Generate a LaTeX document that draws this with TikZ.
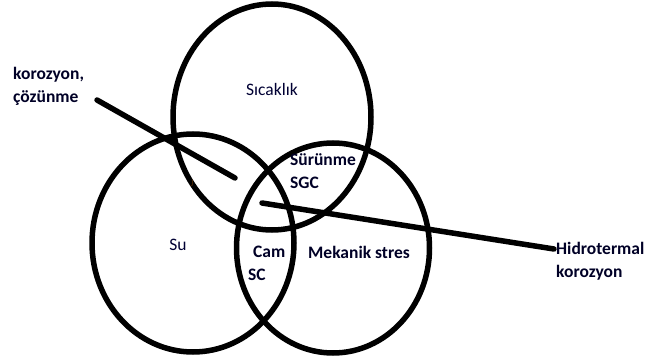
\documentclass[tikz,border=0pt]{standalone}
\usepackage{fontspec}
\setmainfont{Carlito}
\usepackage{tikz}
\usetikzlibrary{shapes.geometric,positioning}

\begin{document}
\begin{tikzpicture}[
  x=1pt, y=-1pt,
  set/.style={draw, ellipse, line width=5.5pt, inner sep=0pt},
  lbl/.style={font=\fontsize{17.5}{23}\selectfont, align=left, inner sep=0pt},
  boldlbl/.style={lbl, font=\fontsize{17.5}{23}\selectfont\bfseries, text=black!85!blue},
  lead/.style={line width=5.5pt, line cap=round}
]
  \useasboundingbox (0,0) rectangle (648,358);

  % the three sets
  \node[set, minimum width=198pt, minimum height=226pt] (sicaklik) at (272,117) {};
  \node[set, minimum width=202pt, minimum height=218pt] (su) at (193,243) {};
  \node[set, minimum width=193pt, minimum height=210pt] (mekanik) at (333,248) {};

  % set names
  \node[lbl, text=black!80!blue] (tsicak) at (272,89) {Sıcaklık};
  \node[lbl, text=black!80!blue] (tsu) at (178,245) {Su};
  \node[boldlbl, anchor=west] (tmek) at (308,252) {Mekanik stres};
  \node[boldlbl, anchor=west] (tsur) at (290,171.5) {Sürünme\\SGC};
  \node[boldlbl, anchor=west] (tcam) at (253,252) {Cam};
  \node[boldlbl, anchor=west] (tsc) at (248,275) {SC};
  \node[lbl, font=\fontsize{10}{11}\selectfont, text=black!70!orange] (tj) at (192,183) {J};

  % outside labels with their leaders
  \node[boldlbl, anchor=west] (korozyon) at (13,86.5) {korozyon,\\çözünme};
  \node[boldlbl, anchor=west] (hidro) at (556,261.5) {Hidrotermal\\korozyon};
  \coordinate (kstart) at (97,100);
  \coordinate (kend) at (235,178);
  \coordinate (hstart) at (262,203);
  \coordinate (hend) at (554,249);

  \draw[lead] (kstart) -- (kend);
  \draw[lead] (hstart) -- (hend);
\end{tikzpicture}
\end{document}
